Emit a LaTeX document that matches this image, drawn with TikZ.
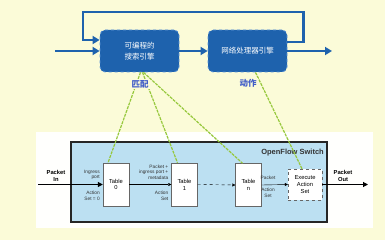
\documentclass[tikz,border=0pt]{standalone}
\usepackage{fontspec}
\setmainfont{Liberation Sans}
\newfontfamily\cjk{Noto Sans CJK SC}
\usetikzlibrary{arrows.meta,positioning,calc}
\definecolor{ofbg}{HTML}{FBFBD8}
\definecolor{ofblue}{HTML}{1E62AD}
\definecolor{ofedge}{HTML}{5A94D6}
\definecolor{oflabel}{HTML}{3F5CC8}
\definecolor{ofsky}{HTML}{BCE0F2}
\definecolor{ofgreen}{HTML}{96C83C}

\tikzset{
  engbox/.style={rectangle, rounded corners=5pt, draw=ofedge, dashed,
    line width=0.8pt, fill=ofblue, text=white, align=center,
    minimum width=79pt, minimum height=42pt, font=\cjk\fontsize{7.5}{11}\selectfont},
  bluearrow/.style={draw=ofblue, line width=2.6pt, -{Triangle[length=7pt,width=8pt]}},
  engtag/.style={text=oflabel, fill=ofbg, inner sep=1pt, font=\cjk\bfseries\fontsize{8.5}{10}\selectfont},
  grnline/.style={draw=ofgreen, line width=1.2pt, dashed, dash pattern=on 3pt off 1pt},
  tblbox/.style={rectangle, draw=black!60, fill=white, align=center,
    minimum width=26pt, minimum height=43pt, font=\fontsize{5.8}{6.8}\selectfont},
  pktlbl/.style={align=right, font=\fontsize{4.8}{5.6}\selectfont, inner sep=1pt, text=black!80},
  iolbl/.style={align=center, font=\bfseries\fontsize{5.8}{6.8}\selectfont, inner sep=1pt},
}

\begin{document}
\begin{tikzpicture}[x=1pt,y=-1pt]
\useasboundingbox (0,0) rectangle (385,240);
\fill[ofbg] (0,0) rectangle (385,240);

% engines on top
\node[engbox] (srch) at (139.5,51) {可编程的\\搜索引擎};
\node[engbox] (proc) at (247.5,51) {网络处理器引擎};
\coordinate (tin) at (55,51);
\coordinate (tout) at (332,51);

\draw[bluearrow] (tin) -- (srch.west);
\draw[bluearrow] (srch.east) -- (proc.west);
\draw[bluearrow] (proc.east) -- (tout);
\draw[bluearrow] ($(proc.east)+(0,-9)$) -- ++(16,0) |- (83,12)
  |- ($(srch.west)+(0,-11)$);

% switch below
\fill[white!96!ofbg] (36,132) rectangle (373,228);
\node[rectangle, draw=black!85, line width=1.4pt, fill=ofsky,
      minimum width=256pt, minimum height=80pt] (sw) at (199,182) {};
\node[anchor=north east, font=\bfseries\fontsize{7.5}{9}\selectfont,
      text=black!80, inner sep=2pt] (swname) at (326,147) {OpenFlow Switch};

\node[tblbox] (tbl0) at (116,184.5) {Table\\0};
\node[tblbox] (tbl1) at (184.5,184.5) {Table\\1};
\node[tblbox] (tbln) at (248.5,185) {Table\\n};
\node[tblbox, dashed, minimum width=34pt, minimum height=31pt] (exec)
  at (305,184.5) {Execute\\Action\\Set};

\coordinate (pin) at (38,184.5);
\coordinate (pout) at (368,184.5);
\draw[line width=1.1pt, -{Triangle[length=5pt,width=5pt]}] (pin) -- (tbl0.west);
\draw[-{Triangle[length=3pt,width=3pt]}] (tbl0.east) -- (tbl1.west);
\draw[dashed, -{Triangle[length=3pt,width=3pt]}] (tbl1.east) -- (tbln.west);
\draw[-{Triangle[length=3pt,width=3pt]}] (tbln.east) -- (exec.west);
\draw[line width=1.1pt, -{Triangle[length=5pt,width=5pt]}] (exec.east) -- (pout);

\node[iolbl] (pinlbl) at (56,176) {Packet\\In};
\node[iolbl] (poutlbl) at (343,176) {Packet\\Out};
\node[pktlbl, anchor=east] (ing0) at (101,175) {Ingress\\port};
\node[pktlbl, anchor=east] (act0) at (101,196) {Action\\Set = 0};
\node[pktlbl, anchor=east] (ing1) at (169.5,172) {Packet +\\ingress port +\\metadata};
\node[pktlbl, anchor=east] (act1) at (169.5,196) {Action\\Set};
\node[pktlbl, align=center] (pktn) at (268,178) {Packet};
\node[pktlbl, align=center] (actn) at (268,193) {Action\\Set};

% green links
\draw[grnline] ([xshift=1pt]srch.south) -- ([xshift=-8pt]tbl0.north);
\draw[grnline] ([xshift=3pt]srch.south) -- ([xshift=-7pt]tbl1.north);
\draw[grnline] ([xshift=4pt]srch.south) -- ([xshift=-6pt]tbln.north);
\draw[grnline] ([xshift=8pt]proc.south) -- ([xshift=-3pt]exec.north);

\node[engtag] (match) at (140,84) {匹配};
\node[engtag] (act) at (248,83) {动作};
\end{tikzpicture}
\end{document}
